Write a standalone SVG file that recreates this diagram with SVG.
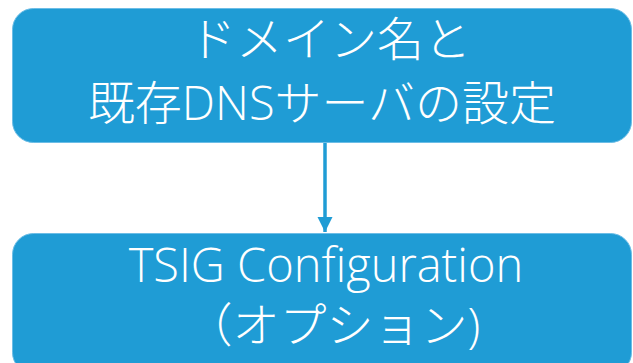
<svg xmlns="http://www.w3.org/2000/svg" width="633" height="363" viewBox="0 0 633 363">
<style>
.box{fill:#1f9cd5;stroke:#6cbde6;stroke-width:1}
.t{fill:#ffffff;font-family:"Open Sans","Noto Sans CJK JP",sans-serif;font-size:47px;font-weight:300;text-anchor:middle}
.c{stroke:#1f9cd5;stroke-width:3.5;fill:none}
</style>
<defs>
<marker id="ah" viewBox="0 0 10 10" refX="10" refY="5" markerWidth="4.3" markerHeight="4.3" orient="auto" markerUnits="strokeWidth">
<path d="M0,0L10,5L0,10z" fill="#1f9cd5"/>
</marker>
</defs>
<g id="node1">
<rect class="box" x="12.5" y="8.5" width="619" height="134" rx="21"/>
<text class="t" x="330" y="56">ドメイン名と</text>
<text class="t" x="322" y="120">既存DNSサーバの設定</text>
</g>
<g id="node2">
<rect class="box" x="12.5" y="233.5" width="619" height="140" rx="21"/>
<text class="t" x="326" y="282">TSIG Configuration</text>
<text class="t" x="333" y="342">（オプション)</text>
</g>
<g id="connectors">
<line class="c" x1="325" y1="143" x2="325" y2="232" marker-end="url(#ah)"/>
</g>
</svg>
